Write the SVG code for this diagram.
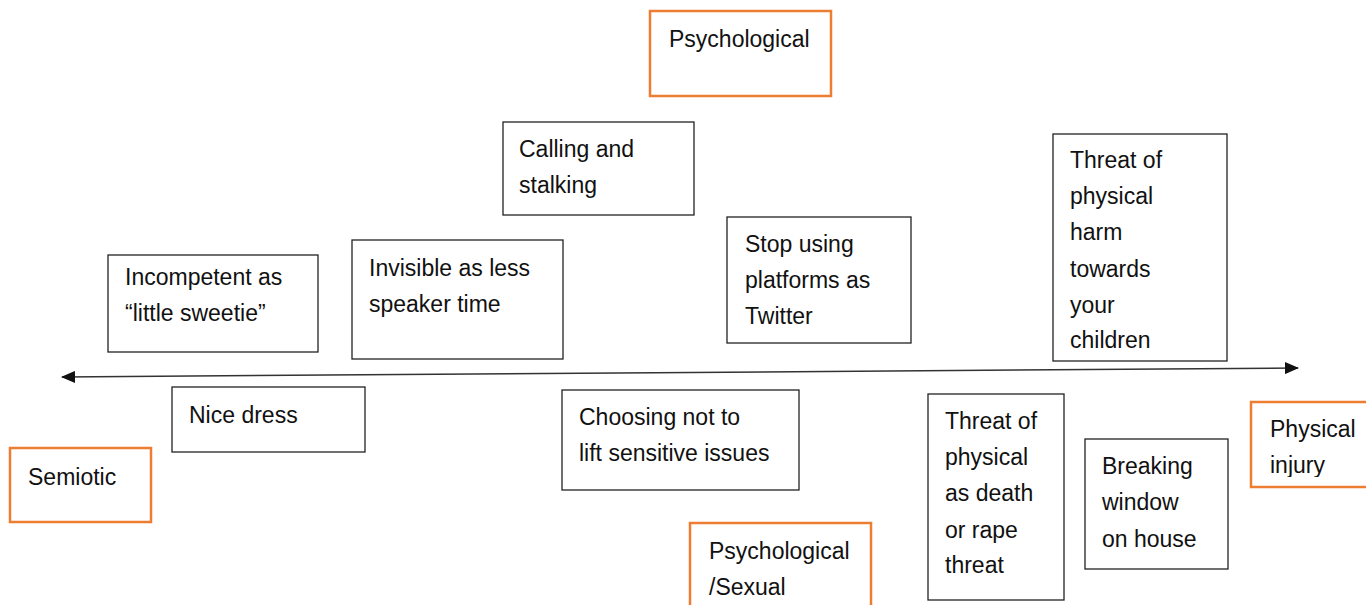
<svg xmlns="http://www.w3.org/2000/svg" width="1366" height="605" viewBox="0 0 1366 605">
<style>
text{font-family:"Liberation Sans",Arial,sans-serif;font-size:23px;fill:#111}
.b{fill:#fff;stroke:#222;stroke-width:1.3}
.o{fill:#fff;stroke:#ED7D31;stroke-width:2.5}
</style>
<defs>
<marker id="ah" viewBox="0 0 14 12" refX="13" refY="6" markerWidth="14" markerHeight="12" markerUnits="userSpaceOnUse" orient="auto-start-reverse"><path d="M0,0 L14,6 L0,12 Z" fill="#111"/></marker>
<clipPath id="cpi"><rect x="1252" y="403" width="114" height="74"/></clipPath>
</defs>
<rect width="1366" height="605" fill="#fff"/>
<g id="connectors">
<line x1="62" y1="377" x2="1298" y2="368" stroke="#333" stroke-width="1.5" marker-start="url(#ah)" marker-end="url(#ah)"/>
</g>
<g id="psychological"><rect class="o" x="650" y="11" width="181" height="85"/><text x="669" y="47">Psychological</text></g>
<g id="calling"><rect class="b" x="503" y="122" width="191" height="93"/><text x="519" y="157">Calling and</text><text x="519" y="193">stalking</text></g>
<g id="threat-children"><rect class="b" x="1053" y="134" width="174" height="227"/><text x="1070" y="168">Threat of</text><text x="1070" y="204">physical</text><text x="1070" y="240">harm</text><text x="1070" y="277">towards</text><text x="1070" y="313">your</text><text x="1070" y="348">children</text></g>
<g id="incompetent"><rect class="b" x="108" y="255" width="210" height="97"/><text x="125" y="285">Incompetent as</text><text x="125" y="321">“little sweetie”</text></g>
<g id="invisible"><rect class="b" x="352" y="240" width="211" height="119"/><text x="369" y="276">Invisible as less</text><text x="369" y="312">speaker time</text></g>
<g id="stop"><rect class="b" x="727" y="217" width="184" height="126"/><text x="745" y="252">Stop using</text><text x="745" y="288">platforms as</text><text x="745" y="324">Twitter</text></g>
<g id="nice-dress"><rect class="b" x="172" y="387" width="193" height="65"/><text x="189" y="423">Nice dress</text></g>
<g id="semiotic"><rect class="o" x="10" y="448" width="141" height="74"/><text x="28" y="485">Semiotic</text></g>
<g id="choosing"><rect class="b" x="562" y="390" width="237" height="100"/><text x="579" y="425">Choosing not to</text><text x="579" y="461">lift sensitive issues</text></g>
<g id="threat-death"><rect class="b" x="928" y="394" width="136" height="206"/><text x="945" y="429">Threat of</text><text x="945" y="465">physical</text><text x="945" y="501">as death</text><text x="945" y="538">or rape</text><text x="945" y="573">threat</text></g>
<g id="breaking"><rect class="b" x="1085" y="439" width="143" height="130"/><text x="1102" y="474">Breaking</text><text x="1102" y="510">window</text><text x="1102" y="547">on house</text></g>
<g id="physical-injury"><rect class="o" x="1251" y="402" width="120" height="85"/><g clip-path="url(#cpi)"><text x="1270" y="437">Physical</text><text x="1270" y="473">injury</text></g></g>
<g id="psych-sexual"><rect class="o" x="690" y="523" width="181" height="90"/><text x="709" y="559">Psychological</text><text x="709" y="595">/Sexual</text></g>
</svg>
